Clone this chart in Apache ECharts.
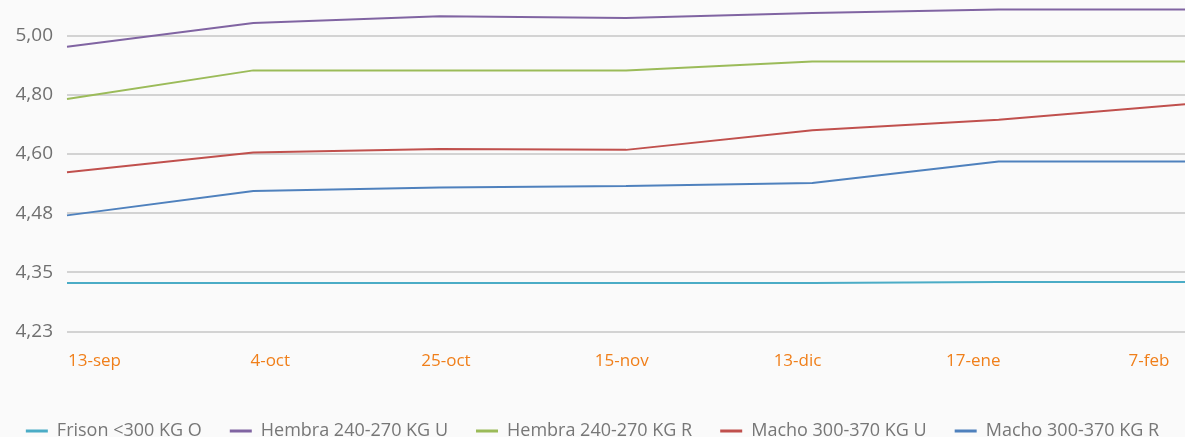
<!DOCTYPE html>
<html>
<head>
<meta charset="utf-8">
<script src="https://cdn.jsdelivr.net/npm/echarts@6/dist/echarts.min.js"></script>
<style>
html,body{margin:0;padding:0;background:#fafafa;}
#chart{width:1185px;height:437px;}
</style>
</head>
<body>
<div id="chart"></div>
<script>
const categories = ['13-sep','4-oct','25-oct','15-nov','13-dic','17-ene','7-feb'];
const yTickValues = [4.23, 4.35, 4.48, 4.60, 4.80, 5.00];
const yTickLabels = ['4,23','4,35','4,48','4,60','4,80','5,00'];

const frison300O   = [4.328, 4.328, 4.328, 4.328, 4.328, 4.330, 4.330];
const hembra240U   = [4.963, 5.043, 5.066, 5.060, 5.077, 5.089, 5.089];
const hembra240R   = [4.786, 4.883, 4.883, 4.883, 4.913, 4.913, 4.913];
const macho300U    = [4.563, 4.605, 4.617, 4.614, 4.680, 4.716, 4.768];
const macho300R    = [4.475, 4.525, 4.532, 4.535, 4.541, 4.585, 4.585];

const seriesNames = ['Frison <300 KG O','Hembra 240-270 KG U','Hembra 240-270 KG R','Macho 300-370 KG U','Macho 300-370 KG R'];
const seriesColors = ['#4bacc6','#8064a2','#9bbb59','#c0504d','#4f81bd'];
const seriesData = [frison300O, hembra240U, hembra240R, macho300U, macho300R];

// piecewise-linear axis: price -> tick index space
function toIdx(p){
  const t = yTickValues;
  let i = 0;
  if (p <= t[0]) i = 0;
  else if (p >= t[t.length-1]) i = t.length-2;
  else { while (i < t.length-2 && p > t[i+1]) i++; }
  return i + (p - t[i]) / (t[i+1] - t[i]);
}

const chart = echarts.init(document.getElementById('chart'));
const font = 'Open Sans';
const gridBottom = 105.7;
const yMax = 5.606;
chart.setOption({
  backgroundColor: '#fafafa',
  animation: false,
  textStyle: {fontFamily: font},
  grid: [
    {left: 67, right: 0, top: 0, bottom: gridBottom},
    {left: 94.5, right: 36, top: 0, bottom: gridBottom}
  ],
  legend: {
    top: 417, left: 'center',
    icon: 'rect', itemWidth: 22, itemHeight: 3, itemGap: 28,
    textStyle: {fontFamily: font, fontSize: 18, color: '#777', padding: [0, 0, 0, 4]},
    data: seriesNames
  },
  xAxis: [
    {type: 'category', gridIndex: 0, data: categories, boundaryGap: false,
     axisLine: {show: false}, axisTick: {show: false}, axisLabel: {show: false}, splitLine: {show: false}},
    {type: 'category', gridIndex: 1, data: categories, boundaryGap: false,
     axisLine: {show: false}, axisTick: {show: false}, splitLine: {show: false},
     axisLabel: {color: '#f07f1a', fontSize: 17, fontFamily: font, margin: 21, interval: 0}}
  ],
  yAxis: [
    {type: 'value', gridIndex: 0, min: 0, max: yMax, interval: 1,
     axisLine: {show: false}, axisTick: {show: false},
     splitLine: {lineStyle: {color: '#c6c6c6', width: 1.5}, showMaxLine: false},
     axisLabel: {color: '#707070', fontSize: 19, fontFamily: font, margin: 14, showMaxLabel: false,
       formatter: function(v){ const k = Math.round(v); return (Math.abs(v - k) < 1e-6 && yTickLabels[k] !== undefined) ? yTickLabels[k] : ''; }}},
    {type: 'value', gridIndex: 1, show: false, min: 0, max: yMax}
  ],
  series: seriesData.map(function(arr, k){
    return {
      name: seriesNames[k], type: 'line', xAxisIndex: 0, yAxisIndex: 0,
      data: arr.map(toIdx), showSymbol: false, symbol: 'none',
      lineStyle: {color: seriesColors[k], width: 2}, itemStyle: {color: seriesColors[k]},
      emphasis: {disabled: true}
    };
  })
});
</script>
</body>
</html>
